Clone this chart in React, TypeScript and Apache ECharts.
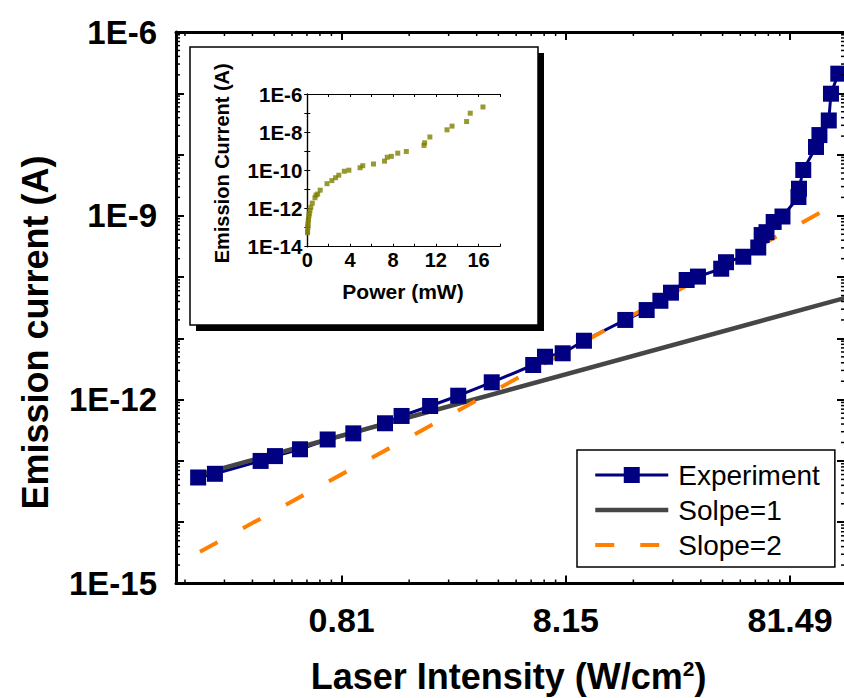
import React, { useEffect, useRef } from 'react';
import * as echarts from 'echarts';

const FONT = "'Liberation Sans', Arial, Helvetica, sans-serif";

// Laser power (mW) and emission current (A) of the measured points
const power = [
  0.0229, 0.0272, 0.0435, 0.0504, 0.0652, 0.0866, 0.1127, 0.156, 0.185, 0.248,
  0.331, 0.467, 0.715, 0.807, 0.968, 1.204, 1.841, 2.293, 2.64, 2.943,
  3.458, 3.883, 4.93, 5.18, 6.185, 7.213, 7.469, 7.85, 8.45, 9.25,
  10.9, 10.96, 11.45, 13.05, 13.52, 14.88, 15.22, 16.41,
];
const current = [
  5.37e-14, 6.17e-14, 1.0e-13, 1.2e-13, 1.55e-13, 2.24e-13, 2.82e-13, 4.12e-13, 5.42e-13, 7.89e-13,
  1.16e-12, 1.92e-12, 3.68e-12, 5.02e-12, 5.71e-12, 9.16e-12, 2.0e-11, 2.9e-11, 4.11e-11, 5.57e-11,
  8.97e-11, 1.02e-10, 1.37e-10, 1.75e-10, 2.15e-10, 3.04e-10, 4.86e-10, 5.41e-10, 7.94e-10, 9.75e-10,
  2.03e-9, 2.77e-9, 5.6e-9, 1.33e-8, 2.08e-8, 3.6e-8, 9.84e-8, 2.09e-7,
];

// Fitted power-law guide lines (end points)
const fitPower = [0.02333, 17.58];
const slope1Current = [6.05e-14, 4.56e-11];
const slope2Current = [3.3e-15, 1.874e-9];

// Main axes ranges and tick labels
const X_MIN = 0.01824;
const X_MAX = 17.58;
const Y_MIN = 1e-15;
const Y_MAX = 1e-6;
const xTickValues = [0.1, 1, 10];
const xTickLabels = ['0.81', '8.15', '81.49'];
const yTickValues = [1e-15, 1e-12, 1e-9, 1e-6];
const yTickLabels = ['1E-15', '1E-12', '1E-9', '1E-6'];

// Inset axes
const insetXTickValues = [0, 4, 8, 12, 16];
const insetXTickLabels = ['0', '4', '8', '12', '16'];
const insetYTickValues = [1e-14, 1e-12, 1e-10, 1e-8, 1e-6];
const insetYTickLabels = ['1E-14', '1E-12', '1E-10', '1E-8', '1E-6'];

const legendNames = ['Experiment', 'Solpe=1', 'Slope=2'];

function labeler(values: number[], labels: string[]) {
  return (v: number) => {
    const i = values.findIndex((t) => (t === 0 ? Math.abs(v) < 1e-9 : Math.abs(v / t - 1) < 1e-6));
    return i >= 0 ? labels[i] : '';
  };
}

function minorTicks(lo: number, hi: number, nFrom: number, nTo: number) {
  const out: number[] = [];
  for (let n = nFrom; n <= nTo; n++) {
    for (let k = 2; k <= 9; k++) {
      const v = k * Math.pow(10, n);
      if (v > lo && v < hi) out.push(v);
    }
  }
  return out;
}

export default function App() {
  const ref = useRef<HTMLDivElement>(null);

  useEffect(() => {
    document.body.style.margin = '0';
    if (!ref.current) return;
    const chart = echarts.init(ref.current, null, { renderer: 'svg' });

    const expData = power.map((p, i) => [p, current[i]]);
    const s1Data = fitPower.map((p, i) => [p, slope1Current[i]]);
    const s2Data = fitPower.map((p, i) => [p, slope2Current[i]]);
    const xMinor = minorTicks(X_MIN, X_MAX, -2, 1).map((v) => [v, Y_MIN]);
    const yMinor = minorTicks(Y_MIN, Y_MAX, -15, -7).map((v) => [X_MIN, v]);

    const mainAxisLine = { lineStyle: { color: '#000', width: 3 } };
    const mainTick = { inside: true, length: 8, lineStyle: { color: '#000', width: 2 } };
    const insetAxisLine = { lineStyle: { color: '#000', width: 1.2 } };
    const insetTick = { inside: true, length: 3, lineStyle: { color: '#000', width: 1 } };
    const tickStyle = { stroke: '#000', lineWidth: 1.5 };

    const option: any = {
      animation: false,
      backgroundColor: '#fff',
      grid: [
        { left: 176, top: 32, width: 669, height: 551.5, outerBoundsMode: 'none', containLabel: false },
        { left: 307.3, top: 94, width: 192.7, height: 152.7, outerBoundsMode: 'none', containLabel: false },
      ],
      xAxis: [
        {
          type: 'log', logBase: 10, gridIndex: 0, position: 'bottom', min: X_MIN, max: X_MAX,
          axisLine: mainAxisLine, axisTick: mainTick, splitLine: { show: false },
          axisLabel: {
            formatter: labeler(xTickValues, xTickLabels), fontSize: 34, fontWeight: 'bold',
            fontFamily: FONT, color: '#000', margin: 19,
          },
        },
        {
          type: 'log', logBase: 10, gridIndex: 0, position: 'top', min: X_MIN, max: X_MAX,
          axisLine: mainAxisLine, axisTick: mainTick, splitLine: { show: false }, axisLabel: { show: false },
        },
        {
          type: 'value', gridIndex: 1, position: 'bottom', min: 0, max: 18, interval: 2, z: 5,
          axisLine: insetAxisLine, axisTick: insetTick, splitLine: { show: false },
          axisLabel: {
            formatter: labeler(insetXTickValues, insetXTickLabels), fontSize: 20, fontWeight: 'bold',
            fontFamily: FONT, color: '#000', margin: 3,
          },
        },
        {
          type: 'value', gridIndex: 1, position: 'top', min: 0, max: 18, interval: 2, z: 5,
          axisLine: insetAxisLine, axisTick: insetTick, splitLine: { show: false }, axisLabel: { show: false },
        },
      ],
      yAxis: [
        {
          type: 'log', logBase: 10, gridIndex: 0, position: 'left', min: Y_MIN, max: Y_MAX, splitNumber: 10,
          axisLine: mainAxisLine, axisTick: mainTick, splitLine: { show: false },
          axisLabel: {
            formatter: labeler(yTickValues, yTickLabels), fontSize: 33, fontWeight: 'bold',
            fontFamily: FONT, color: '#000', margin: 19,
          },
        },
        {
          type: 'log', logBase: 10, gridIndex: 0, position: 'right', min: Y_MIN, max: Y_MAX, splitNumber: 10,
          axisLine: mainAxisLine, axisTick: mainTick, splitLine: { show: false }, axisLabel: { show: false },
        },
        {
          type: 'log', logBase: 10, gridIndex: 1, position: 'left', min: 1e-14, max: 1e-6, splitNumber: 10, z: 5,
          axisLine: insetAxisLine, axisTick: insetTick, splitLine: { show: false },
          axisLabel: {
            formatter: labeler(insetYTickValues, insetYTickLabels), fontSize: 20.5, fontWeight: 'bold',
            fontFamily: FONT, color: '#000', margin: 5,
          },
        },
        {
          type: 'log', logBase: 10, gridIndex: 1, position: 'right', min: 1e-14, max: 1e-6, splitNumber: 10, z: 5,
          axisLine: insetAxisLine, axisTick: insetTick, splitLine: { show: false }, axisLabel: { show: false },
        },
      ],
      legend: {
        data: [
          { name: legendNames[0], lineStyle: { width: 3 } },
          { name: legendNames[1], itemStyle: { opacity: 0 }, lineStyle: { width: 4.5 } },
          { name: legendNames[2], itemStyle: { opacity: 0 }, lineStyle: { width: 4, type: [19, 26] } },
        ],
        orient: 'vertical',
        left: 577,
        top: 450,
        padding: [11, 15, 8, 16],
        itemGap: 7,
        itemWidth: 73,
        itemHeight: 20,
        borderColor: '#000',
        borderWidth: 1.5,
        borderRadius: 0,
        backgroundColor: '#fff',
        textStyle: { fontSize: 28, fontFamily: FONT, color: '#000', padding: [0, 0, 0, 5] },
      },
      graphic: [
        { type: 'rect', z: 1, shape: { x: 196, y: 53, width: 348, height: 278 }, style: { fill: '#000' } },
        {
          type: 'rect', z: 1, shape: { x: 190, y: 47, width: 348, height: 278 },
          style: { fill: '#fff', stroke: '#000', lineWidth: 1.5 },
        },
        {
          type: 'text', z: 5, x: 35, y: 332.5, rotation: Math.PI / 2,
          style: {
            text: 'Emission current (A)', fontSize: 36, fontWeight: 'bold', fontFamily: FONT,
            fill: '#000', align: 'center', verticalAlign: 'middle',
          },
        },
        {
          type: 'text', z: 5, x: 508.6, y: 676,
          style: {
            text: 'Laser Intensity (W/cm{sup|2})', fontSize: 36, fontWeight: 'bold', fontFamily: FONT,
            fill: '#000', align: 'center', verticalAlign: 'middle',
            rich: { sup: { fontSize: 21, fontWeight: 'bold', fontFamily: FONT, fill: '#000', verticalAlign: 'top' } },
          },
        },
        {
          type: 'text', z: 6, x: 221.7, y: 163.3, rotation: Math.PI / 2,
          style: {
            text: 'Emission Current (A)', fontSize: 20, fontWeight: 'bold', fontFamily: FONT,
            fill: '#000', align: 'center', verticalAlign: 'middle',
          },
        },
        {
          type: 'text', z: 6, x: 403, y: 291.7,
          style: {
            text: 'Power (mW)', fontSize: 21, fontWeight: 'bold', fontFamily: FONT,
            fill: '#000', align: 'center', verticalAlign: 'middle',
          },
        },
      ],
      series: [
        {
          name: 'Experiment', type: 'line', xAxisIndex: 0, yAxisIndex: 0, data: expData,
          symbol: 'rect', symbolSize: 16, showAllSymbol: true, z: 3,
          lineStyle: { color: '#000080', width: 3 }, itemStyle: { color: '#000080' },
        },
        {
          name: 'Solpe=1', type: 'line', xAxisIndex: 0, yAxisIndex: 0, data: s1Data,
          symbol: 'none', z: 3, lineStyle: { color: '#464646', width: 4.5 }, itemStyle: { color: '#464646' },
        },
        {
          name: 'Slope=2', type: 'line', xAxisIndex: 0, yAxisIndex: 0, data: s2Data,
          symbol: 'none', z: 3, lineStyle: { color: '#ff8000', width: 4, type: [20, 29] },
          itemStyle: { color: '#ff8000' },
        },
        {
          name: 'xMinorTicks', type: 'custom', xAxisIndex: 0, yAxisIndex: 0, data: xMinor, silent: true, z: 4,
          renderItem: (params: any, api: any) => {
            const cs = params.coordSys;
            const x = api.coord([api.value(0), Y_MIN])[0];
            const b = cs.y + cs.height;
            const t = cs.y;
            return {
              type: 'group',
              children: [
                { type: 'line', shape: { x1: x, y1: b, x2: x, y2: b - 4 }, style: tickStyle },
                { type: 'line', shape: { x1: x, y1: t, x2: x, y2: t + 4 }, style: tickStyle },
              ],
            };
          },
        },
        {
          name: 'yMinorTicks', type: 'custom', xAxisIndex: 0, yAxisIndex: 0, data: yMinor, silent: true, z: 4,
          renderItem: (params: any, api: any) => {
            const cs = params.coordSys;
            const y = api.coord([X_MIN, api.value(1)])[1];
            const l = cs.x;
            const r = cs.x + cs.width;
            return {
              type: 'group',
              children: [
                { type: 'line', shape: { x1: l, y1: y, x2: l + 4, y2: y }, style: tickStyle },
                { type: 'line', shape: { x1: r, y1: y, x2: r - 4, y2: y }, style: tickStyle },
              ],
            };
          },
        },
        {
          name: 'Inset', type: 'scatter', xAxisIndex: 2, yAxisIndex: 2, data: expData,
          symbol: 'rect', symbolSize: 5, z: 6, itemStyle: { color: '#808000' },
        },
      ],
    };

    chart.setOption(option);
    return () => chart.dispose();
  }, []);

  return <div ref={ref} style={{ width: 844, height: 698 }} />;
}
